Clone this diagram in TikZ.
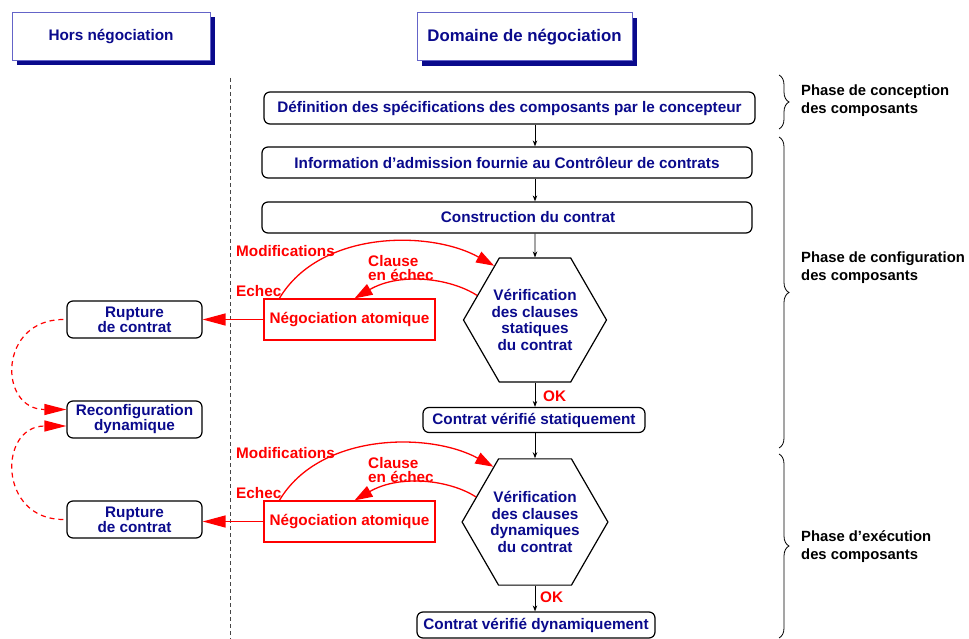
\documentclass[tikz,border=0pt]{standalone}
\usepackage{fontspec}
\setmainfont{Liberation Sans}
\usetikzlibrary{arrows.meta,shapes.geometric,shadows,decorations.pathreplacing}
\definecolor{navy}{RGB}{10,10,140}
\definecolor{hdrline}{RGB}{100,100,200}
\definecolor{divider}{RGB}{70,70,70}

\begin{document}
\begin{tikzpicture}[x=1pt,y=-1pt,
  every node/.style={font=\fontsize{15.3}{16.7}\selectfont\bfseries, inner sep=0pt},
  hdr/.style={draw=hdrline, line width=1pt, fill=white, minimum height=48pt, text=navy,
    drop shadow={shadow xshift=5pt, shadow yshift=-5pt, fill=navy, opacity=1}},
  mainbox/.style={draw, rounded corners=6pt, line width=1.2pt, text=navy},
  sidebox/.style={mainbox, align=center, minimum width=135pt, minimum height=37pt,
    font=\fontsize{15.3}{15}\selectfont\bfseries},
  hexa/.style={regular polygon, regular polygon sides=6, draw, line width=1.2pt,
    minimum size=143pt, align=center, text=navy},
  redbox/.style={draw=red, line width=1.2pt, text=red, minimum width=171pt, minimum height=41pt},
  lbl/.style={text=red, anchor=west},
  twolines/.style={lbl, align=left, font=\fontsize{15.3}{14}\selectfont\bfseries},
  phase/.style={anchor=west, align=left, font=\fontsize{14.8}{18}\selectfont\bfseries},
  blk/.style={-{Stealth[length=6pt,width=4.5pt]}, line width=0.8pt},
  redarr/.style={red, line width=1.3pt, -{Triangle[length=18pt,width=12pt]}},
  longhead/.style={-{Triangle[length=23pt,width=12pt]}},
  dasharr/.style={red, line width=1.2pt, dash pattern=on 5pt off 4pt, -{Triangle[length=22pt,width=11pt]}},
  bracestyle/.style={decorate, decoration={brace, amplitude=10pt}, line width=0.8pt}
]
\useasboundingbox (0,0) rectangle (969,639);

% column headers
\node[hdr, minimum width=198pt] (hors) at (111,36.5) {Hors négociation};
\node[hdr, minimum width=215pt, font=\fontsize{16.8}{18}\selectfont\bfseries] (dom) at (524.5,37) {Domaine de négociation};

% divider between the two domains
\draw[divider, line width=0.8pt, dash pattern=on 4pt off 3pt] (230,78) -- (230,639);

% main flow
\node[mainbox, minimum width=491pt, minimum height=32pt] (spec) at (509.5,108)
  {Définition des spécifications des composants par le concepteur};
\node[mainbox, minimum width=490pt, minimum height=31pt] (info) at (507,162.5)
  {Information d’admission fournie au Contrôleur de contrats};
\node[mainbox, minimum width=490pt, minimum height=31pt] (constr) at (507,217.5) {};
\node[text=navy] (constrtxt) at (528,217.5) {Construction du contrat};

\node[hexa] (vs) at (535,320) {Vérification\\des clauses\\statiques\\du contrat};
\node[mainbox, minimum width=222pt, minimum height=25pt] (cvs) at (534,420) {Contrat vérifié statiquement};
\node[hexa] (vd) at (535,522) {Vérification\\des clauses\\dynamiques\\du contrat};
\node[mainbox, minimum width=238pt, minimum height=26pt] (cvd) at (536,625) {Contrat vérifié dynamiquement};

\draw[blk] (spec.south -| vs.center) -- (info.north -| vs.center);
\draw[blk] (info.south -| vs.center) -- (constr.north -| vs.center);
\draw[blk] (constr.south -| vs.center) -- (vs.north);
\draw[blk] (vs.south) -- (cvs.north -| vs.south);
\draw[blk] (cvs.south -| vd.north) -- (vd.north);
\draw[blk] (vd.south) -- (cvd.north -| vd.south);
\node[lbl] (ok1) at (543,396) {OK};
\node[lbl] (ok2) at (540,597) {OK};

% atomic negotiation loops
\node[redbox] (na1) at (349.5,319.5) {Négociation atomique};
\node[redbox] (na2) at (349.5,521.5) {Négociation atomique};

\draw[redarr] ([xshift=16pt]na1.north west) .. controls (320,230) and (430,230) .. (vs.127);
\draw[redarr] (vs.157) .. controls (450,278) and (400,272) .. ([xshift=5pt]na1.north);
\draw[redarr] ([xshift=16pt]na2.north west) .. controls (320,432) and (430,432) .. (vd.127);
\draw[redarr] (vd.157) .. controls (450,480) and (400,474) .. ([xshift=5pt]na2.north);

\node[lbl] (mod1) at (236,251) {Modifications};
\node[lbl] (ech1) at (236,291) {Echec};
\node[twolines] (cl1) at (368,268) {Clause\\en échec};
\node[lbl] (mod2) at (236,453) {Modifications};
\node[lbl] (ech2) at (236,493) {Echec};
\node[twolines] (cl2) at (368,470) {Clause\\en échec};

% outside negotiation
\node[sidebox] (rup1) at (134.5,319.5) {Rupture\\de contrat};
\node[sidebox] (reco) at (134.5,419.5) {Reconfiguration\\dynamique};
\node[sidebox] (rup2) at (134.5,519.5) {Rupture\\de contrat};

\draw[redarr, longhead] (na1.west) -- (na1.west -| rup1.east);
\draw[redarr, longhead] (na2.west) -- (na2.west -| rup2.east);
\draw[dasharr] ([xshift=-3pt]rup1.west) .. controls (-2,319.5) and (-2,409.5) .. ([yshift=10pt]reco.west);
\draw[dasharr] ([xshift=-3pt]rup2.west) .. controls (-2,519.5) and (-2,426) .. ([yshift=-6.5pt]reco.west);

% phases
\draw[bracestyle] (779,75) -- (779,129);
\draw[bracestyle] (779,137) -- (779,448);
\draw[bracestyle] (779,454) -- (779,638);
\node[phase] (ph1) at (801,101) {Phase de conception\\des composants};
\node[phase] (ph2) at (801,268) {Phase de configuration\\des composants};
\node[phase] (ph3) at (801,547) {Phase d’exécution\\des composants};
\end{tikzpicture}
\end{document}
